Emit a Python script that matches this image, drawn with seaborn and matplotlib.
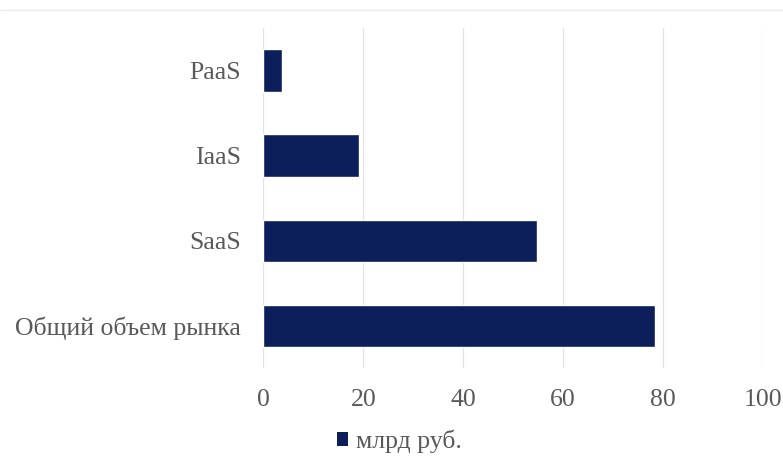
import matplotlib
matplotlib.use("Agg")
import matplotlib.pyplot as plt
import seaborn as sns
import pandas as pd
from matplotlib.lines import Line2D
from matplotlib.patches import Patch

categories = ["PaaS", "IaaS", "SaaS", "Общий объем рынка"]
values = [3.8, 19.1, 54.9, 78.4]
series_name = "млрд руб."
x_ticks = [0, 20, 40, 60, 80, 100]

sns.set_theme(style="white")
plt.rcParams["font.family"] = ["Liberation Serif", "DejaVu Serif"]

df = pd.DataFrame({"category": categories, "value": values})

fig = plt.figure(figsize=(7.83, 4.61), dpi=100)
ax = fig.add_axes([0.3365, 0.2007, 0.9738 - 0.3365, 0.9393 - 0.2007])

bar_color = "#0c1f5b"
sns.barplot(data=df, x="value", y="category", orient="h", color=bar_color,
            width=0.5, saturation=1, ax=ax, zorder=3)

ax.set_xlim(0, 100)
ax.set_ylim(3.5, -0.5)
ax.set_xticks(x_ticks)
ax.set_xticklabels([str(t) for t in x_ticks])
ax.grid(axis="x", color="#e2e2e2", linewidth=0.9, zorder=0)
ax.set_axisbelow(True)
for s in ax.spines.values():
    s.set_visible(False)
ax.set_xlabel("")
ax.set_ylabel("")
fs = 18.5
ax.tick_params(axis="x", colors="#595959", labelsize=fs, length=0, pad=15)
ax.tick_params(axis="y", colors="#595959", labelsize=fs, length=0, pad=16)

handles = [Patch(facecolor=bar_color, edgecolor="none", label=series_name)]
fig.legend(handles=handles, loc="center", bbox_to_anchor=(0.51, 1 - 441 / 461),
           frameon=False, fontsize=fs, handlelength=0.45, handleheight=0.45,
           handletextpad=0.3, labelcolor="#595959")

fig.add_artist(Line2D([0, 1], [1 - 10 / 461, 1 - 10 / 461], color="#ececec",
                      linewidth=1, transform=fig.transFigure))

fig.savefig("out.png", dpi=100, facecolor="white")
